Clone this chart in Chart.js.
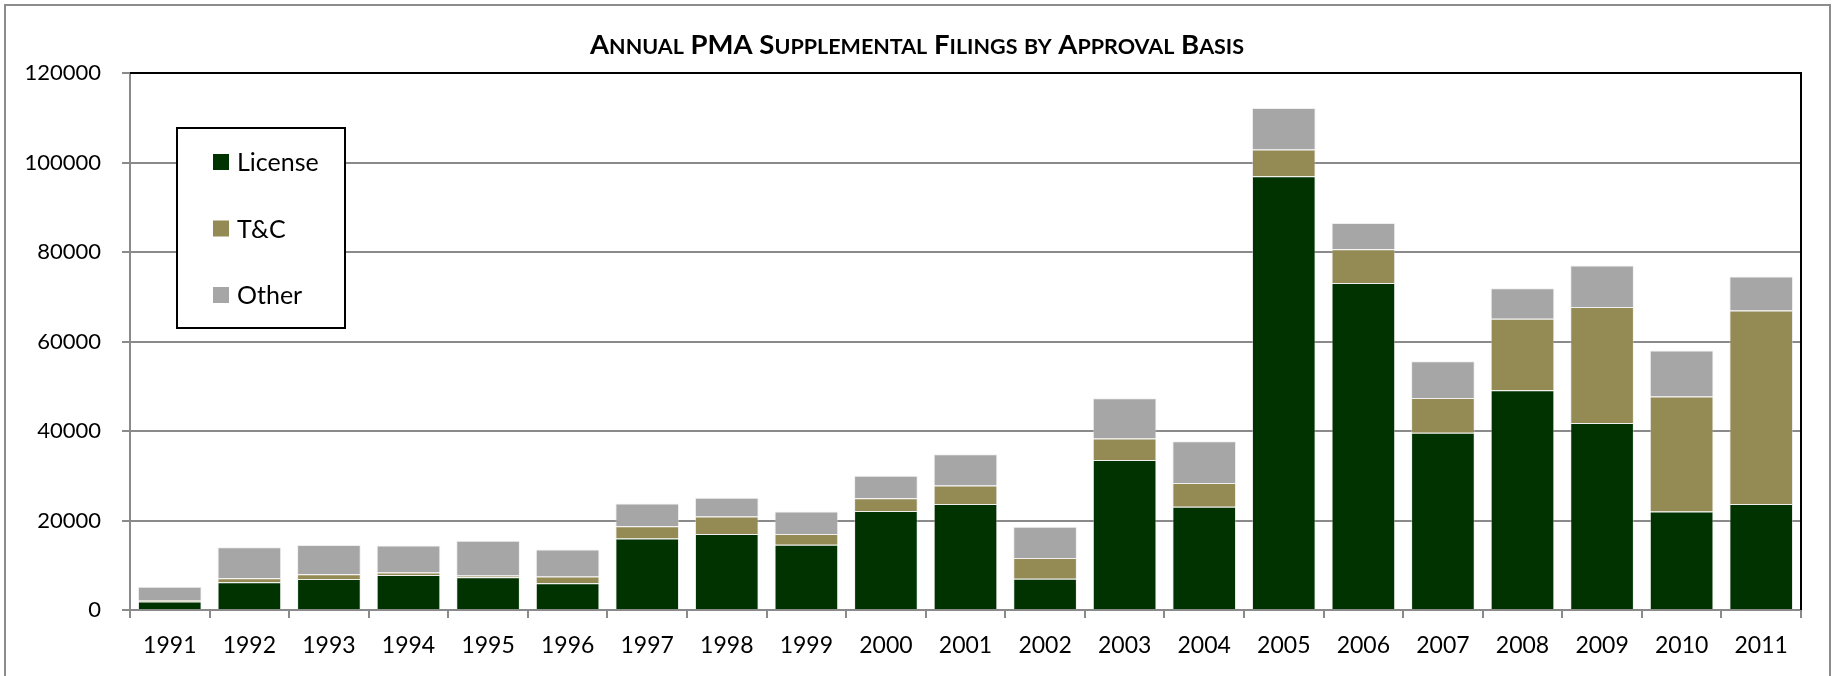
<!DOCTYPE html>
<html>
<head>
<meta charset="utf-8">
<title>Annual PMA Supplemental Filings</title>
<script src="https://cdn.jsdelivr.net/npm/chart.js@4.4.1/dist/chart.umd.min.js"></script>
<style>
    html, body { margin: 0; padding: 0; background: #fff; }
    canvas { display: block; }
</style>
</head>
<body>
<canvas id="pmaChart" width="1835" height="676"></canvas>
<script>
var chartTitle = 'Annual PMA Supplemental Filings by Approval Basis';
var years = ['1991', '1992', '1993', '1994', '1995', '1996', '1997', '1998', '1999', '2000', '2001',
             '2002', '2003', '2004', '2005', '2006', '2007', '2008', '2009', '2010', '2011'];
var license = [1900, 6200, 6900, 7800, 7300, 6000, 16000, 17000, 14600, 22100, 23700,
               7000, 33500, 23100, 96900, 73100, 39600, 49100, 41800, 22000, 23700];
var tAndC = [300, 900, 1100, 600, 400, 1500, 2700, 3900, 2400, 2900, 4100,
             4600, 4800, 5300, 6000, 7500, 7800, 16000, 25900, 25700, 43200];
var other = [3000, 6900, 6500, 6000, 7800, 6000, 5100, 4200, 5000, 5000, 7000,
             7000, 9000, 9300, 9300, 5900, 8200, 6800, 9300, 10300, 7600];
var yTicks = [0, 20000, 40000, 60000, 80000, 100000, 120000];

var FONT = 'Lato, "Open Sans", sans-serif';
var GRID = '#8a8a8a';

// white page, grey frame, black top/right edges of the plot
var framePlugin = {
    id: 'frame',
    beforeDraw: function (chart) {
        var ctx = chart.ctx;
        ctx.save();
        ctx.fillStyle = '#fff';
        ctx.fillRect(0, 0, chart.width, chart.height);
        ctx.strokeStyle = '#8c8c8c';
        ctx.lineWidth = 2;
        ctx.strokeRect(5, 5, chart.width - 10, chart.height + 20);
        ctx.restore();
    },
    afterDatasetsDraw: function (chart) {
        var a = chart.chartArea, ctx = chart.ctx;
        ctx.save();
        ctx.strokeStyle = '#000';
        ctx.lineWidth = 2;
        ctx.beginPath();
        ctx.moveTo(a.left, a.top);
        ctx.lineTo(a.right, a.top);
        ctx.lineTo(a.right, a.bottom);
        ctx.stroke();
        ctx.restore();
    }
};

// title in small caps: capitals at full size, lower case letters as smaller capitals
var titlePlugin = {
    id: 'smallCapsTitle',
    afterDraw: function (chart) {
        var ctx = chart.ctx;
        var bigFont = 'bold 27.5px ' + FONT, smallFont = 'bold 21.5px ' + FONT;
        var runs = [];
        for (var i = 0; i < chartTitle.length; i++) {
            var ch = chartTitle[i];
            var big = ch === ch.toUpperCase();
            if (runs.length && runs[runs.length - 1].big === big) {
                runs[runs.length - 1].text += ch.toUpperCase();
            } else {
                runs.push({ text: ch.toUpperCase(), big: big });
            }
        }
        ctx.save();
        var total = 0;
        runs.forEach(function (r) {
            ctx.font = r.big ? bigFont : smallFont;
            r.w = ctx.measureText(r.text).width;
            total += r.w;
        });
        var x = 917 - total / 2;
        ctx.fillStyle = '#000';
        ctx.textBaseline = 'alphabetic';
        runs.forEach(function (r) {
            ctx.font = r.big ? bigFont : smallFont;
            ctx.fillText(r.text, x, 54);
            x += r.w;
        });
        ctx.restore();
    }
};

// boxed legend sitting inside the plot, one row per dataset
var boxLegendPlugin = {
    id: 'boxLegend',
    afterDraw: function (chart) {
        var ctx = chart.ctx;
        var box = { x: 177, y: 128, w: 168, h: 200 };
        ctx.save();
        ctx.fillStyle = '#fff';
        ctx.fillRect(box.x, box.y, box.w, box.h);
        ctx.strokeStyle = '#000';
        ctx.lineWidth = 2;
        ctx.strokeRect(box.x, box.y, box.w, box.h);
        ctx.font = '25px ' + FONT;
        ctx.textBaseline = 'middle';
        chart.data.datasets.forEach(function (ds, i) {
            var cy = 162 + i * 66.5;
            ctx.fillStyle = ds.backgroundColor;
            ctx.fillRect(213, cy - 8, 16, 16);
            ctx.fillStyle = '#000';
            ctx.fillText(ds.label, 237, cy + 1);
        });
        ctx.restore();
    }
};

var ctx = document.getElementById('pmaChart').getContext('2d');
var pmaChart = new Chart(ctx, {
    type: 'bar',
    data: {
        labels: years,
        datasets: [
            { label: 'License', data: license, backgroundColor: '#013301' },
            { label: 'T&C', data: tAndC, backgroundColor: '#948a54' },
            { label: 'Other', data: other, backgroundColor: '#a6a6a6' }
        ].map(function (ds) {
            ds.borderColor = 'rgba(220, 220, 220, 0.45)';
            ds.borderWidth = 1;
            ds.barPercentage = 0.8;
            ds.categoryPercentage = 1.0;
            return ds;
        })
    },
    options: {
        responsive: false,
        animation: false,
        layout: { padding: { left: 0, right: 34, top: 73, bottom: 0 } },
        plugins: {
            legend: { display: false },
            title: { display: false },
            tooltip: { enabled: false }
        },
        scales: {
            x: {
                stacked: true,
                grid: {
                    offset: true,
                    drawOnChartArea: false,
                    drawTicks: true,
                    tickLength: 8,
                    color: GRID,
                    lineWidth: 2
                },
                border: { color: GRID, width: 2 },
                ticks: {
                    color: '#000',
                    padding: 14,
                    maxRotation: 0,
                    autoSkip: false,
                    font: { family: FONT, size: 23 }
                },
                afterFit: function (scale) { scale.height = 66; }
            },
            y: {
                stacked: true,
                min: 0,
                max: 120000,
                afterBuildTicks: function (scale) {
                    scale.ticks = yTicks.map(function (v) { return { value: v }; });
                },
                grid: {
                    color: GRID,
                    lineWidth: 2,
                    tickLength: 8
                },
                border: { color: GRID, width: 2 },
                ticks: {
                    color: '#000',
                    padding: 21,
                    font: { family: FONT, size: 22 },
                    callback: function (value) { return String(value); }
                },
                afterFit: function (scale) { scale.width = 130; }
            }
        }
    },
    plugins: [framePlugin, titlePlugin, boxLegendPlugin]
});
</script>
</body>
</html>
